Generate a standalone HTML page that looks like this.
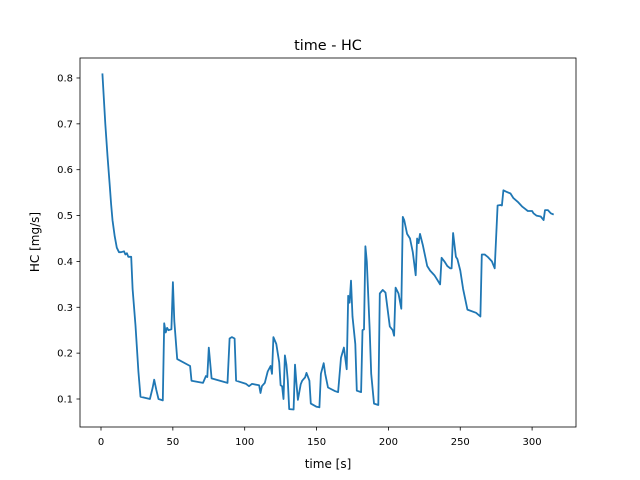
<!DOCTYPE html>
<html><head><meta charset="utf-8"><style>
body{margin:0;background:#fff}
svg{display:block;font-family:"DejaVu Sans","Liberation Sans",sans-serif}
</style></head><body>
<svg id="chart" width="640" height="480" viewBox="0 0 640 480">
<rect width="640" height="480" fill="#fff"/>
<text x="328" y="50" font-size="14.4" text-anchor="middle">time - HC</text>
<g id="ticks"></g>
<path id="line" fill="none" stroke="#1f77b4" stroke-width="1.8" stroke-linejoin="round"/>
<rect x="80" y="58" width="496" height="369" fill="none" stroke="#000" stroke-width="0.8"/>
<text x="328" y="468" font-size="12" text-anchor="middle">time [s]</text>
<text transform="translate(39,242) rotate(-90)" font-size="12" text-anchor="middle">HC [mg/s]</text>
</svg>
<script>
const times=[1,3,4.5,6,7,8,9.5,11,12.5,14,16,17,18,19,20,21,22,24,26,27.5,34,36,37,38.5,40,43,44,45,46,47,49,50,51,53,62,63,71,73,74,75,77,88,89.5,91,93,94,101,103,105,110,111,112,114,116,118,119,120,122,124,125,126,127,128,129,130,131,134,135,136,137,139,140,142,143,145,146,150,152,153,155,156,158,163,165,167,169,171,172,173,174,175,177,178,181,182,183,184,185,187,188,190,193,194,196,198,201,203,204,205,207,209,210,211,213,215,217,219,220,221,222,224,227,229,232,234,236,237,239,241,243,244,245,247,248,250,252,255,261,264,265,267,269,272,274,276,278,279,280,282,285,287,290,293,295,297,300,301,303,306,308,309,311,313,315];
const hc=[0.81,0.70,0.63,0.57,0.525,0.49,0.455,0.43,0.42,0.42,0.422,0.415,0.418,0.41,0.41,0.41,0.34,0.26,0.16,0.105,0.1,0.125,0.142,0.12,0.1,0.097,0.265,0.245,0.255,0.25,0.252,0.355,0.27,0.187,0.172,0.14,0.135,0.15,0.148,0.212,0.145,0.135,0.232,0.235,0.232,0.14,0.133,0.128,0.133,0.13,0.113,0.128,0.135,0.16,0.172,0.155,0.235,0.22,0.18,0.13,0.128,0.1,0.195,0.175,0.14,0.078,0.077,0.175,0.135,0.098,0.132,0.14,0.147,0.157,0.14,0.09,0.083,0.082,0.155,0.178,0.155,0.125,0.117,0.115,0.19,0.212,0.165,0.325,0.31,0.358,0.28,0.22,0.118,0.115,0.25,0.252,0.433,0.4,0.25,0.155,0.09,0.087,0.33,0.338,0.332,0.258,0.25,0.238,0.343,0.33,0.297,0.497,0.49,0.46,0.45,0.42,0.37,0.45,0.44,0.46,0.435,0.39,0.38,0.37,0.36,0.35,0.408,0.4,0.39,0.385,0.385,0.462,0.41,0.405,0.38,0.34,0.295,0.288,0.28,0.415,0.415,0.41,0.4,0.385,0.522,0.523,0.522,0.555,0.552,0.548,0.538,0.53,0.52,0.515,0.51,0.51,0.505,0.5,0.498,0.49,0.512,0.512,0.505,0.502];
const xTicks=[0,50,100,150,200,250,300];
const yTicks=[0.1,0.2,0.3,0.4,0.5,0.6,0.7,0.8];
const X=t=>101+t*1.437;
const Y=v=>399-(v-0.1)*458.6;
const NS="http://www.w3.org/2000/svg";
const g=document.getElementById('ticks');
function mk(tag,attrs,txt){const e=document.createElementNS(NS,tag);for(const k in attrs)e.setAttribute(k,attrs[k]);if(txt!==undefined)e.textContent=txt;g.appendChild(e);return e;}
xTicks.forEach(t=>{
  const l=mk('line',{x1:X(t),x2:X(t),y1:427,y2:430.5,stroke:'#000','stroke-width':0.8});
  
  
  const s=mk('text',{x:X(t),y:445,'font-size':10,'text-anchor':'middle'},String(t));
  
  
});
yTicks.forEach(v=>{
  const l=mk('line',{x1:76.5,x2:80,y1:Y(v),y2:Y(v),stroke:'#000','stroke-width':0.8});
  
  
  const s=mk('text',{x:73,y:Y(v)+3.5,'font-size':10,'text-anchor':'end'},v.toFixed(1));
  
  
});
document.getElementById('line').setAttribute('d',times.map((t,i)=>(i?'L':'M')+X(t).toFixed(1)+','+Y(hc[i]).toFixed(1)).join(''));
</script>
</body></html>
